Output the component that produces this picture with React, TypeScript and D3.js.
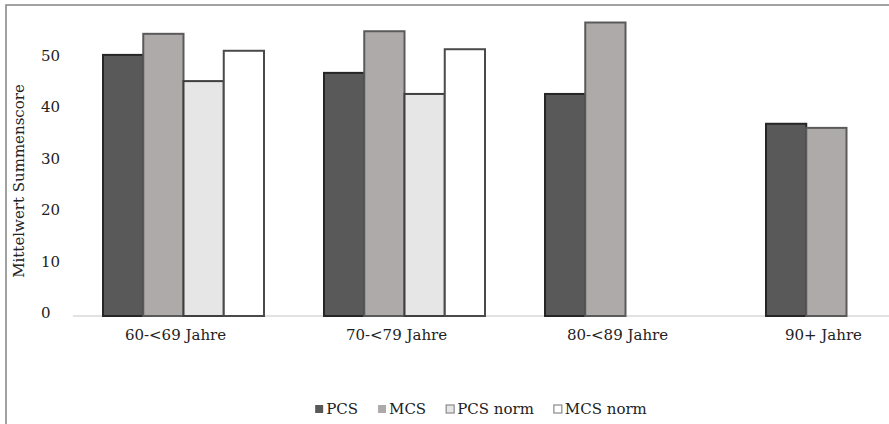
import { useEffect, useRef } from 'react';
import * as d3 from 'd3';

const categories = ['60-<69 Jahre', '70-<79 Jahre', '80-<89 Jahre', '90+ Jahre'];
const seriesNames = ['PCS', 'MCS', 'PCS norm', 'MCS norm'];
const pcs = [50.8, 47.3, 43.2, 37.4];
const mcs = [54.9, 55.4, 57.1, 36.6];
const pcsNorm: (number | null)[] = [45.7, 43.2, null, null];
const mcsNorm: (number | null)[] = [51.6, 51.9, null, null];
const yTicks = [0, 10, 20, 30, 40, 50];

const fills = ['#595959', '#aeaaaa', '#e7e6e6', '#ffffff'];
const strokes = ['#262626', '#5a5a5a', '#3f3f3f', '#4a4a4a'];

const width = 889;
const height = 424;
const FONT = 'DejaVu Serif, serif';
const FS = 15;

export default function App() {
  const svgRef = useRef<SVGSVGElement>(null);

  useEffect(() => {
    if (!svgRef.current) return;
    const svg = d3.select(svgRef.current);
    svg.selectAll('*').remove();

    const values = [pcs, mcs, pcsNorm, mcsNorm];

    // scales (plot area runs past the right edge, like the cropped original)
    const x0 = d3.scaleBand<string>().domain(categories).range([73, 957]);
    const clusterW = 161;
    const x1 = d3.scaleBand<string>().domain(seriesNames).range([0, clusterW]);
    const y = d3.scaleLinear().domain([0, 50]).range([316, 59]);

    // frame
    svg.append('rect')
      .attr('x', 6).attr('y', 5)
      .attr('width', 1000).attr('height', 1000)
      .attr('fill', 'none')
      .attr('stroke', '#8a8a8a')
      .attr('stroke-width', 1.6);

    // y tick labels
    svg.append('g')
      .selectAll('text')
      .data(yTicks)
      .join('text')
      .attr('x', 41)
      .attr('y', d => y(d) + 2)
      .attr('text-anchor', 'start')
      .attr('font-family', FONT)
      .attr('font-size', FS)
      .attr('fill', '#222')
      .text(d => d);

    // y title
    svg.append('text')
      .attr('transform', 'translate(24,181) rotate(-90)')
      .attr('text-anchor', 'middle')
      .attr('font-family', FONT)
      .attr('font-size', FS)
      .attr('fill', '#222')
      .text('Mittelwert Summenscore');

    // baseline
    svg.append('line')
      .attr('x1', 73).attr('x2', 957)
      .attr('y1', y(0)).attr('y2', y(0))
      .attr('stroke', '#d9d9d9')
      .attr('stroke-width', 1.5);

    // bars
    const offset = (x0.bandwidth() - clusterW) / 2;
    seriesNames.forEach((s, si) => {
      const data = categories
        .map((c, ci) => ({ c, v: values[si][ci] }))
        .filter(d => d.v != null) as { c: string; v: number }[];
      svg.append('g')
        .selectAll('rect')
        .data(data)
        .join('rect')
        .attr('x', d => (x0(d.c) ?? 0) + offset + (x1(s) ?? 0))
        .attr('y', d => y(d.v))
        .attr('width', x1.bandwidth())
        .attr('height', d => y(0) - y(d.v))
        .attr('fill', fills[si])
        .attr('stroke', strokes[si])
        .attr('stroke-width', 2);
    });

    // x labels, nudged left and kept inside the visible plot edge
    const labels = svg.append('g');
    categories.forEach(c => {
      const t = labels.append('text')
        .attr('y', 340)
        .attr('text-anchor', 'middle')
        .attr('font-family', FONT)
        .attr('font-size', FS)
        .attr('fill', '#222')
        .text(c);
      const w = (t.node() as SVGTextElement).getComputedTextLength();
      let cx = (x0(c) ?? 0) + x0.bandwidth() / 2 - 8;
      if (cx + w / 2 > 862) cx = 862 - w / 2;
      t.attr('x', cx);
    });

    // legend
    const legend = svg.append('g');
    let lx = 0;
    seriesNames.forEach((s, si) => {
      const item = legend.append('g').attr('transform', `translate(${lx},0)`);
      item.append('rect')
        .attr('x', 0).attr('y', -9)
        .attr('width', 8).attr('height', 8)
        .attr('fill', fills[si])
        .attr('stroke', si >= 2 ? '#8a8a8a' : 'none')
        .attr('stroke-width', 1.2);
      const t = item.append('text')
        .attr('x', 11)
        .attr('y', 0)
        .attr('font-family', FONT)
        .attr('font-size', FS)
        .attr('fill', '#222')
        .text(s);
      const w = (t.node() as SVGTextElement).getComputedTextLength();
      lx += 11 + w + 20;
    });
    const total = lx - 20;
    legend.attr('transform', `translate(${481 - total / 2},414)`);
  }, []);

  return (
    <svg
      ref={svgRef}
      width={width}
      height={height}
      viewBox={`0 0 ${width} ${height}`}
      style={{ position: 'absolute', left: 0, top: 0, background: '#fff' }}
    />
  );
}
